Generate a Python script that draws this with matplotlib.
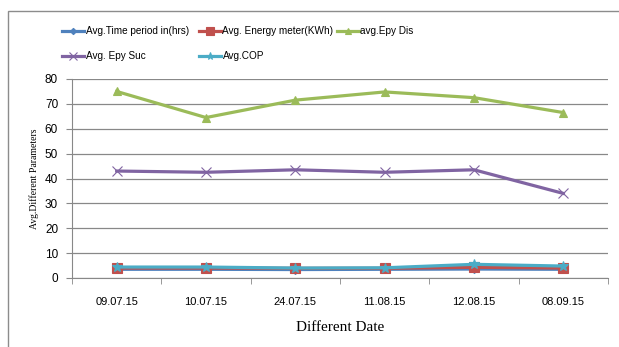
import matplotlib
matplotlib.use("Agg")
import matplotlib.pyplot as plt
from matplotlib.patches import Rectangle

# data
dates = ['09.07.15', '10.07.15', '24.07.15', '11.08.15', '12.08.15', '08.09.15']
time_period = [3.5, 3.5, 3.4, 3.5, 3.6, 3.5]
energy_meter = [4.0, 4.0, 3.9, 3.9, 4.3, 4.0]
epy_dis = [75.0, 64.5, 71.5, 74.8, 72.5, 66.5]
epy_suc = [43.0, 42.5, 43.5, 42.5, 43.5, 34.0]
cop = [4.4, 4.4, 4.0, 4.1, 5.5, 4.8]

labels = ['Avg.Time period in(hrs)', 'Avg. Energy meter(KWh)', 'avg.Epy Dis',
          'Avg. Epy Suc', 'Avg.COP']
colors = ['#4F81BD', '#C0504D', '#9BBB59', '#8064A2', '#4BACC6']
markers = ['D', 's', '^', 'x', '*']
msizes = [4, 7, 6, 7, 7]

fig = plt.figure(figsize=(6.19, 3.47), dpi=100)
fig.patches.append(Rectangle((8 / 619, -0.1), 1.2, 1 - 11 / 347 + 0.1,
                             transform=fig.transFigure, fill=False,
                             edgecolor='#8c8c8c', linewidth=1.0))

ax = fig.add_axes([72 / 619, 1 - 278 / 347, 536 / 619, 199 / 347])
x = list(range(len(dates)))
series = [time_period, energy_meter, epy_dis, epy_suc, cop]
handles = []
for vals, lab, c, m, ms in zip(series, labels, colors, markers, msizes):
    h, = ax.plot(x, vals, color=c, marker=m, markersize=ms, linewidth=2.3,
                 label=lab, markeredgecolor=c, markeredgewidth=0.8)
    handles.append(h)

ax.set_xlim(-0.5, len(dates) - 0.5)
ax.set_ylim(0, 80)
ax.set_yticks(range(0, 81, 10))
ax.set_xticks(x)
ax.set_xticklabels(dates, fontsize=8, family='Liberation Sans')
ax.set_xticks([i - 0.5 for i in range(len(dates) + 1)], minor=True)
ax.tick_params(axis='x', which='major', length=0, pad=14)
ax.tick_params(axis='x', which='minor', length=4, color='#888888', direction='out')
ax.tick_params(axis='y', length=4, color='#888888', labelsize=8.5, pad=6)
for t in ax.get_yticklabels():
    t.set_family('Liberation Sans')
ax.grid(axis='y', color='#888888', linewidth=0.9)
ax.set_axisbelow(True)
for s in ['top', 'right']:
    ax.spines[s].set_visible(False)
ax.spines['left'].set_color('#888888')
ax.spines['bottom'].set_color('#888888')

ax.set_xlabel('Different Date', family='Liberation Serif', fontsize=11, labelpad=10)
ax.set_ylabel('Avg.Different Parameters', family='Liberation Serif', fontsize=7,
              labelpad=4)

# legend laid out in three equal-width columns like the Excel original
columns = [[0, 3], [1, 4], [2]]
col_x = [62, 199, 337]
for idx, cx in zip(columns, col_x):
    fig.legend([handles[i] for i in idx], [labels[i] for i in idx], ncol=1,
               loc='upper left', bbox_to_anchor=(cx / 619, 1 - 26 / 347),
               frameon=False, prop={'family': 'Liberation Sans', 'size': 7.2},
               handlelength=2.2, handletextpad=0.15,
               labelspacing=1.5, borderpad=0, borderaxespad=0, markerscale=0.8)

fig.savefig('out.png', dpi=100)
